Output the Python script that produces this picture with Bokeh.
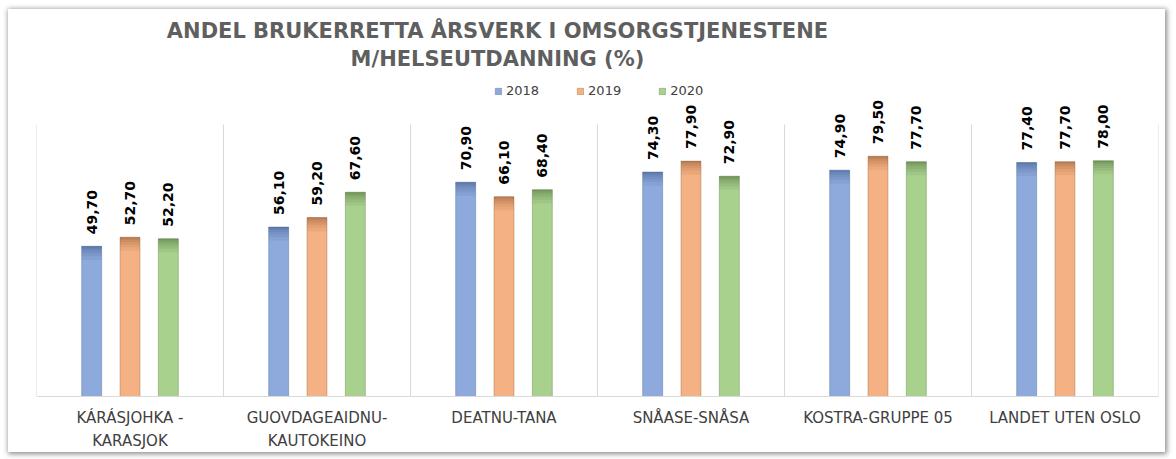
import math
from bokeh.plotting import figure
from bokeh.models import (ColumnDataSource, FactorRange, Range1d, Label, Legend, LegendItem, Span)
from bokeh.transform import dodge
from bokeh.core.properties import value
from bokeh.embed import file_html
from bokeh.resources import INLINE

# ---- data ----
categories = ["KÁRÁSJOHKA -\nKARASJOK", "GUOVDAGEAIDNU-\nKAUTOKEINO", "DEATNU-TANA",
              "SNÅASE-SNÅSA", "KOSTRA-GRUPPE 05", "LANDET UTEN OSLO"]
years = ["2018", "2019", "2020"]
v2018 = [49.7, 56.1, 70.9, 74.3, 74.9, 77.4]
v2019 = [52.7, 59.2, 66.1, 77.9, 79.5, 77.7]
v2020 = [52.2, 67.6, 68.4, 72.9, 77.7, 78.0]
title_lines = ["ANDEL BRUKERRETTA ÅRSVERK I OMSORGSTJENESTENE", "M/HELSEUTDANNING (%)"]

series = [v2018, v2019, v2020]
fills = ["#8EAADC", "#F4B183", "#A9D18E"]
darks = ["#3F5A8A", "#8F5A35", "#4F703C"]
offsets = [-0.205, 0.0, 0.205]
bar_w = 0.107
value_max = 90          # value axis maximum (plot area top)
px_per_unit = 272 / value_max
top_px = 387            # px from value 0 up to figure top
bottom_px = 56          # px from value 0 down to figure bottom
y_end = top_px / px_per_unit
y_start = -bottom_px / px_per_unit

def fmt(v):
    return f"{v:.2f}".replace(".", ",")

p = figure(width=1157, height=top_px + bottom_px, x_range=FactorRange(*categories),
           y_range=Range1d(y_start, y_end),
           output_backend="svg", toolbar_location=None, margin=(9, 0, 0, 8),
           min_border_left=28, min_border_right=7, min_border_top=0, min_border_bottom=0)
p.styles = {"box-shadow": "1px 1px 5px 1px rgba(0,0,0,0.45)"}
p.outline_line_color = None
p.xgrid.visible = False
p.ygrid.visible = False
p.yaxis.visible = False
p.xaxis.visible = False

# category separators (plot-area grid) and baseline
n = len(categories)
p.segment(x0=list(range(n + 1)), x1=list(range(n + 1)), y0=[0] * (n + 1),
          y1=[value_max] * (n + 1), line_color="#D9D9D9", line_width=1)
p.add_layout(Span(location=0, dimension="width", line_color="#D9D9D9", line_width=1))

# category labels
p.text(x=categories, y=[0] * n, text=categories, y_offset=12,
       text_align="center", text_baseline="top", text_line_height=1.33,
       text_font=value("DejaVu Sans"), text_font_size="15px", text_color="#404040")

shade = [(4.5, 0.10), (3.3, 0.10), (2.4, 0.12), (1.6, 0.14), (0.9, 0.16), (0.4, 0.18)]
renderers = []
for vals, fc, dc, off, yr in zip(series, fills, darks, offsets, years):
    src = ColumnDataSource(dict(cat=categories, val=vals, lab=[fmt(v) for v in vals]))
    xs = dodge("cat", off, range=p.x_range)
    r = p.vbar(x=xs, top="val", width=bar_w, source=src,
               fill_color=fc, line_color=dc, line_alpha=0.35, line_width=1)
    renderers.append((yr, r))
    for depth, a in shade:
        s2 = ColumnDataSource(dict(cat=categories, val=vals, bot=[v - depth for v in vals]))
        p.vbar(x=dodge("cat", off, range=p.x_range), top="val", bottom="bot", width=bar_w,
               source=s2, fill_color=dc, fill_alpha=a, line_color=None)
    p.text(x=xs, y="val", text="lab", source=src,
           angle=math.pi / 2, text_align="left", text_baseline="middle", y_offset=-12,
           text_font=value("DejaVu Sans"), text_font_style="bold",
           text_font_size="14px", text_color="#000000")

legend = Legend(items=[LegendItem(label=yr, renderers=[r]) for yr, r in renderers],
                orientation="horizontal", location=(458, 298 + bottom_px),
                glyph_width=8, glyph_height=8, label_standoff=4, spacing=37,
                label_text_font="DejaVu Sans", label_text_font_size="13px",
                label_text_color="#404040", label_height=14,
                background_fill_alpha=0, border_line_color=None, padding=2, margin=0)
p.add_layout(legend, "center")

for txt, ys in zip(title_lines, [366, 338]):
    p.add_layout(Label(x=2.465, y=ys + bottom_px, x_units="data", y_units="screen", text=txt,
                       text_align="center", text_baseline="middle",
                       text_font="DejaVu Sans", text_font_style="bold",
                       text_font_size="21px", text_color="#5F5F5F"))

open("out.html", "w").write(file_html(p, INLINE))
